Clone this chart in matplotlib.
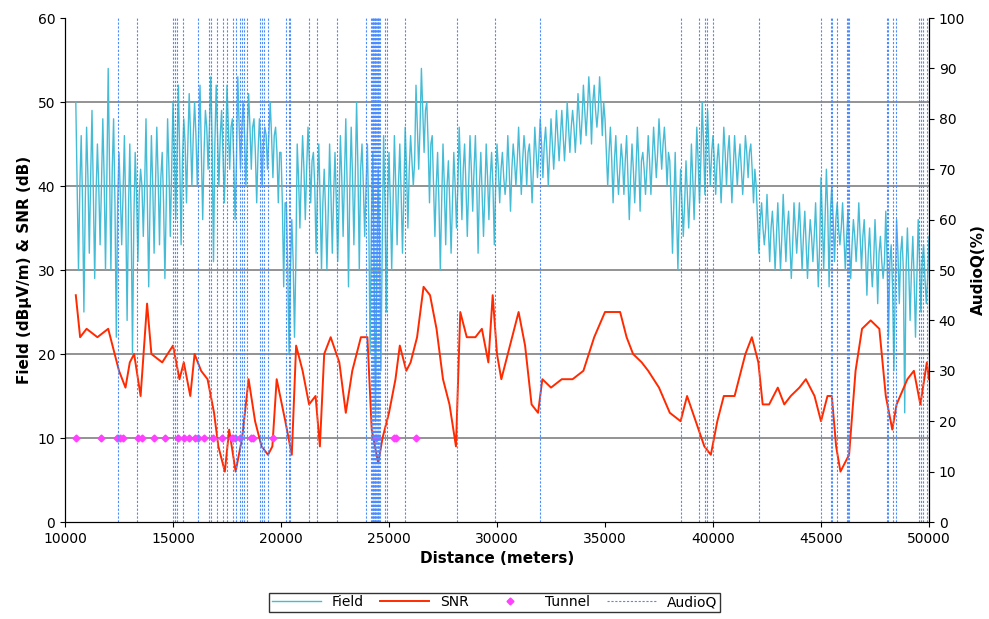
import numpy as np
import matplotlib.pyplot as plt

# field strength every 250 m (10500 .. 50000): upper swing, core level, lower swing
field_hi = [50, 46,
            47, 49, 45, 48, 54, 48, 44, 46, 45, 44, 42, 48, 46, 47, 44, 48,
            50, 52, 48, 51, 50, 52, 49, 53, 52, 49, 52, 48, 53, 50, 51, 48,
            48, 47, 50, 47, 44, 38, 36, 45, 46, 47, 44, 45, 42, 45, 44, 46,
            48, 47, 50, 45, 45, 44, 42, 46, 44, 46, 45, 47, 46, 52, 54, 50,
            46, 44, 45, 43, 44, 47, 45, 46, 46, 44, 45, 44, 45, 44, 46, 45,
            47, 46, 45, 47, 48, 47, 48, 49, 49, 50, 49, 51, 52, 53, 52, 53,
            48, 47, 46, 45, 46, 45, 47, 44, 46, 47, 48, 47, 43, 44, 42, 43,
            45, 47, 50, 49, 46, 45, 47, 46, 46, 45, 46, 45, 40, 38, 39, 37,
            38, 39, 37, 38, 38, 37, 36, 38, 41, 42, 40, 38, 38, 37, 36, 38,
            36, 35, 36, 34, 37, 33, 36, 34, 35, 34, 36, 33,
            34]
field_mid = [40, 38,
             41, 39, 40, 41, 42, 38, 39, 37, 36, 39, 40, 38, 40, 41, 38, 42,
             44, 43, 45, 46, 46, 44, 47, 45, 46, 44, 47, 43, 47, 46, 47, 44,
             45, 46, 46, 44, 38, 30, 31, 41, 42, 43, 40, 38, 37, 39, 38, 41,
             40, 41, 42, 40, 36, 30, 33, 38, 38, 40, 39, 42, 43, 47, 49, 45,
             40, 38, 40, 38, 40, 42, 40, 42, 40, 39, 41, 40, 42, 41, 42, 43,
             43, 44, 42, 44, 45, 44, 45, 46, 46, 47, 47, 48, 49, 50, 49, 50,
             44, 43, 42, 43, 41, 42, 43, 42, 43, 44, 45, 44, 38, 37, 38, 39,
             41, 43, 45, 44, 43, 42, 44, 42, 43, 42, 44, 42, 36, 35, 35, 34,
             34, 35, 33, 35, 34, 33, 34, 33, 36, 37, 36, 35, 34, 33, 34, 34,
             32, 31, 32, 31, 31, 28, 32, 30, 30, 29, 31, 29,
             30]
field_lo = [30, 25,
            32, 29, 33, 30, 30, 22, 33, 24, 20, 31, 34, 28, 32, 33, 29, 34,
            36, 33, 38, 40, 40, 36, 42, 31, 40, 38, 42, 36, 42, 40, 42, 38,
            40, 42, 41, 38, 28, 20, 22, 35, 36, 38, 32, 30, 30, 32, 31, 34,
            28, 33, 30, 34, 20, 12, 18, 25, 30, 33, 32, 35, 40, 42, 44, 38,
            34, 30, 33, 32, 35, 36, 34, 37, 32, 34, 36, 33, 38, 39, 37, 40,
            39, 40, 38, 41, 41, 40, 42, 43, 43, 44, 44, 45, 46, 45, 47, 46,
            40, 38, 39, 39, 36, 38, 37, 39, 39, 41, 42, 40, 32, 30, 34, 35,
            36, 38, 39, 40, 39, 38, 40, 38, 40, 39, 41, 38, 32, 33, 31, 30,
            30, 31, 29, 32, 30, 29, 31, 28, 30, 28, 31, 33, 30, 29, 31, 30,
            27, 28, 26, 29, 22, 18, 26, 13, 24, 22, 25, 26,
            26]

snr_x = [10500, 10700, 11000, 11500, 12000, 12500, 12800, 13000, 13200, 13500,
         13800, 14000, 14500, 15000, 15300, 15500, 15800, 16000, 16300, 16600,
         16900, 17100, 17400, 17600, 17900, 18200, 18500, 18800, 19100, 19400,
         19600, 19800, 20200, 20500, 20700, 21000, 21300, 21600, 21800, 22000,
         22300, 22700, 23000, 23300, 23700, 24000, 24200, 24500, 24700, 25000,
         25300, 25500, 25800, 26000, 26300, 26600, 26900, 27200, 27500, 27800,
         28100, 28300, 28600, 29000, 29300, 29600, 29800, 30000, 30200, 30500,
         30800, 31000, 31300, 31600, 31900, 32100, 32500, 33000, 33500, 34000,
         34500, 35000, 35700, 36000, 36300, 36700, 37000, 37500, 38000, 38500,
         38800, 39200, 39600, 39900, 40200, 40500, 41000, 41500, 41800, 42100,
         42300, 42600, 43000, 43300, 43600, 44000, 44300, 44700, 45000, 45300,
         45500, 45700, 45900, 46300, 46600, 46900, 47300, 47700, 48000, 48300,
         48500, 49000, 49300, 49600, 49900, 50000]
snr_y = [27, 22, 23, 22, 23, 18, 16, 19, 20, 15,
         26, 20, 19, 21, 17, 19, 15, 20, 18, 17,
         13, 9, 6, 11, 6, 10, 17, 12, 9, 8,
         9, 17, 12, 8, 21, 18, 14, 15, 9, 20,
         22, 19, 13, 18, 22, 22, 11, 7, 10, 13,
         17, 21, 18, 19, 22, 28, 27, 23, 17, 14,
         9, 25, 22, 22, 23, 19, 27, 20, 17, 20,
         23, 25, 21, 14, 13, 17, 16, 17, 17, 18,
         22, 25, 25, 22, 20, 19, 18, 16, 13, 12,
         15, 12, 9, 8, 12, 15, 15, 20, 22, 19,
         14, 14, 16, 14, 15, 16, 17, 15, 12, 15,
         15, 9, 6, 8, 18, 23, 24, 23, 15, 11,
         14, 17, 18, 14, 19, 17]

tunnel_x = [10509, 11667, 12407, 12540, 12685, 13380, 13565, 14120, 14630,
            15231, 15509, 15741, 16019, 16157, 16435, 16852, 17268, 17731,
            17850, 18102, 18611, 18700, 19630, 24398, 25231, 25330, 26250]
tunnel_y = [10] * len(tunnel_x)

audioq_x = [12468, 13347, 14986, 15093, 15199, 15450, 16172, 16667, 16746,
            17051, 17329, 17487, 17792, 17903, 18102, 18209, 18301, 18440,
            19028, 19107, 19213, 19413, 20232, 20385, 20417, 21311, 21653,
            22579, 23936, 24168, 24210, 24246, 24280, 24307, 24340, 24367,
            24400, 24432, 24470, 24506, 24540, 24585, 24816, 24894, 25742,
            28163, 29909, 31993, 38521, 39368, 39632, 39711, 40016, 42146,
            44988, 45451, 45498, 45757, 46192, 46266, 46313, 48045, 48119,
            48322, 48475, 49553, 49618, 49711, 49896]

# hi, mid, lo, mid ... sample order, 62.5 m apart
field_x = np.arange(len(field_hi) * 4 - 3) * 62.5 + 10500
field_y = np.empty(len(field_x))
field_y[0::4] = field_hi
field_y[1::4] = field_mid[:-1]
field_y[2::4] = field_lo[:-1]
field_y[3::4] = field_mid[:-1]

fig = plt.figure(figsize=(9.89, 6.19), dpi=100)
ax = fig.add_axes([65 / 989, 97 / 619, 864 / 989, 504 / 619])
ax2 = ax.twinx()

for y in range(10, 60, 10):
    ax.axhline(y, color='#808080', lw=1.2, zorder=0)

h_field, = ax.plot(field_x, field_y, color='#45BCD6', lw=1.0, label='Field')
h_snr, = ax.plot(snr_x, snr_y, color='#FF2A00', lw=1.4, label='SNR')
h_tun, = ax.plot(tunnel_x, tunnel_y, 'D', color='#FF40FF', ms=3.5,
                 ls='none', label='Tunnel')
for xa in audioq_x:
    h_aq = ax.axvline(xa, color='#4A8CFF', lw=0.8, ls=(0, (2, 1.5)),
                      label='AudioQ')

ax.set_xlim(10000, 50000)
ax.set_ylim(0, 60)
ax2.set_ylim(0, 100)
ax.set_xticks(range(10000, 50001, 5000))
ax.set_yticks(range(0, 61, 10))
ax2.set_yticks(range(0, 101, 10))
for a in (ax, ax2):
    a.tick_params(labelsize=10, direction='out')
ax.set_xlabel('Distance (meters)', fontweight='bold', fontsize=11)
ax.set_ylabel('Field (dBµV/m) & SNR (dB)', fontweight='bold', fontsize=11)
ax2.set_ylabel('AudioQ(%)', fontweight='bold', fontsize=11)
ax.spines['top'].set_visible(False)
ax2.spines['top'].set_visible(False)

fig.legend([h_field, h_snr, h_tun, h_aq],
           ['Field', 'SNR', 'Tunnel', 'AudioQ'],
           loc='lower center', bbox_to_anchor=(0.5, 0.0), ncol=4,
           frameon=True, fancybox=False, edgecolor='black',
           fontsize=10, handlelength=3.5, columnspacing=1.2,
           borderpad=0.2)

fig.savefig('out.png')
